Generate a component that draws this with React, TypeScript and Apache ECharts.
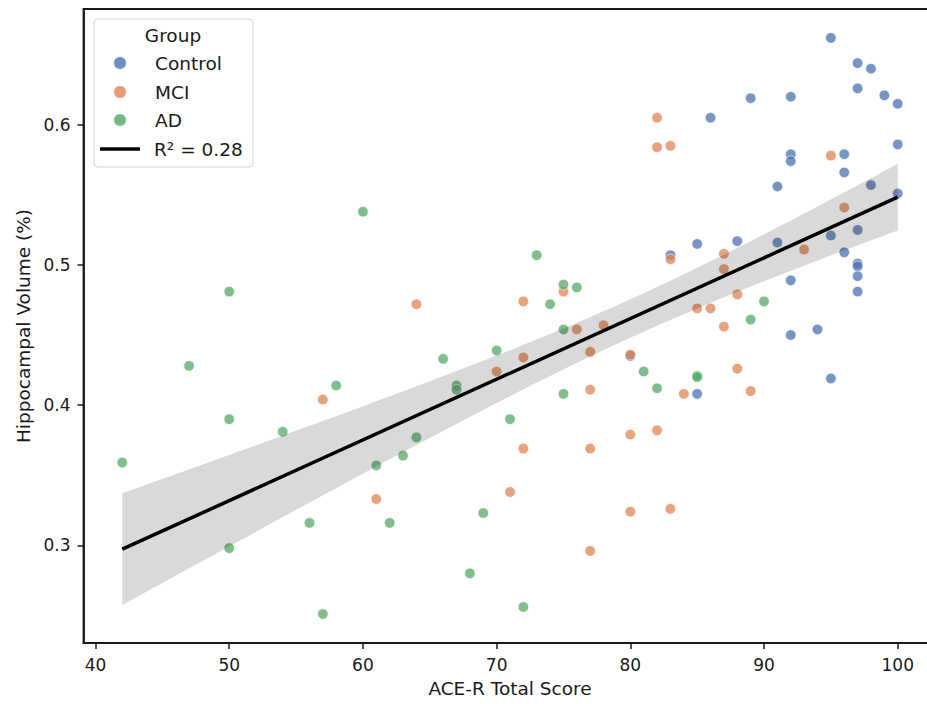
import React, { useEffect, useRef } from "react";
import * as echarts from "echarts";

// ACE-R total score (x) and hippocampal volume in % (y), per diagnostic group
const controlScores = [95, 97, 98, 97, 99, 100, 89, 92, 86, 100, 96, 92, 92, 96, 91, 98, 100, 97, 95, 91, 88, 85, 83, 96, 97, 97, 97, 97, 92, 92, 94, 80, 95, 85];
const controlVolumes = [0.662, 0.644, 0.640, 0.626, 0.621, 0.615, 0.619, 0.620, 0.605, 0.586, 0.579, 0.579, 0.574, 0.566, 0.556, 0.557, 0.551, 0.525, 0.521, 0.516, 0.517, 0.515, 0.507, 0.509, 0.501, 0.499, 0.492, 0.481, 0.489, 0.450, 0.454, 0.435, 0.419, 0.408];

const mciScores = [82, 82, 83, 95, 96, 93, 87, 83, 87, 88, 85, 86, 87, 78, 80, 88, 84, 89, 80, 82, 75, 64, 72, 76, 77, 72, 70, 77, 72, 77, 57, 61, 71, 80, 83, 77];
const mciVolumes = [0.605, 0.584, 0.585, 0.578, 0.541, 0.511, 0.508, 0.504, 0.497, 0.479, 0.469, 0.469, 0.456, 0.457, 0.436, 0.426, 0.408, 0.410, 0.379, 0.382, 0.481, 0.472, 0.474, 0.454, 0.438, 0.434, 0.424, 0.411, 0.369, 0.369, 0.404, 0.333, 0.338, 0.324, 0.326, 0.296];

const adScores = [60, 73, 75, 76, 50, 74, 75, 90, 89, 70, 66, 47, 81, 85, 85, 58, 67, 67, 82, 75, 50, 71, 54, 64, 63, 42, 61, 56, 62, 69, 50, 68, 57, 72];
const adVolumes = [0.538, 0.507, 0.486, 0.484, 0.481, 0.472, 0.454, 0.474, 0.461, 0.439, 0.433, 0.428, 0.424, 0.421, 0.420, 0.414, 0.414, 0.411, 0.412, 0.408, 0.390, 0.390, 0.381, 0.377, 0.364, 0.359, 0.357, 0.316, 0.316, 0.323, 0.298, 0.280, 0.251, 0.256];

const groupNames = ["Control", "MCI", "AD"];
const groupColors = ["#4c72b0", "#dd8452", "#55a868"];
const fitLabel = "R² = 0.28";

const xTicks = [40, 50, 60, 70, 80, 90, 100];
const yTicks = [0.3, 0.4, 0.5, 0.6];

const FONT = "DejaVu Sans";
const INK = "#1a1a1a";
const TICK_SIZE = 17;
const LABEL_SIZE = 18.5;

function pairs(xs: number[], ys: number[]) {
  return xs.map((x, i) => [x, ys[i]]);
}

// Ordinary least squares fit with a 95% confidence band of the mean
function fitLine() {
  const xs = [...controlScores, ...mciScores, ...adScores];
  const ys = [...controlVolumes, ...mciVolumes, ...adVolumes];
  const n = xs.length;
  const mx = xs.reduce((a, b) => a + b, 0) / n;
  const my = ys.reduce((a, b) => a + b, 0) / n;
  let sxx = 0;
  let sxy = 0;
  for (let i = 0; i < n; i++) {
    sxx += (xs[i] - mx) ** 2;
    sxy += (xs[i] - mx) * (ys[i] - my);
  }
  const slope = sxy / sxx;
  const intercept = my - slope * mx;
  let sse = 0;
  for (let i = 0; i < n; i++) sse += (ys[i] - (intercept + slope * xs[i])) ** 2;
  const s2 = sse / (n - 2);
  const t = 1.983;
  const x0 = Math.min(...xs);
  const x1 = Math.max(...xs);
  const steps = 60;
  const upper: number[][] = [];
  const lower: number[][] = [];
  for (let k = 0; k <= steps; k++) {
    const x = x0 + ((x1 - x0) * k) / steps;
    const yhat = intercept + slope * x;
    const half = t * Math.sqrt(s2 * (1 / n + (x - mx) ** 2 / sxx));
    upper.push([x, yhat + half]);
    lower.push([x, yhat - half]);
  }
  return {
    line: [
      [x0, intercept + slope * x0],
      [x1, intercept + slope * x1],
    ],
    upper,
    lower,
  };
}

export default function App() {
  const ref = useRef<HTMLDivElement>(null);

  useEffect(() => {
    if (!ref.current) return;
    const chart = echarts.init(ref.current, null, { renderer: "svg" });
    const fit = fitLine();
    const groups = [
      pairs(controlScores, controlVolumes),
      pairs(mciScores, mciVolumes),
      pairs(adScores, adVolumes),
    ];

    const scatterSeries = groups.map((data, i) => ({
      type: "scatter",
      name: groupNames[i],
      data,
      symbol: "circle",
      symbolSize: 10.5,
      z: 2,
      itemStyle: {
        color: groupColors[i],
        opacity: 0.75,
        borderColor: "#ffffff",
        borderWidth: 0.8,
      },
      emphasis: { disabled: true },
    }));

    const legendFont = `${LABEL_SIZE}px '${FONT}'`;
    const legendRows = [63, 92, 120];
    const legendChildren: any[] = [
      {
        type: "rect",
        shape: { x: 94, y: 19, width: 159, height: 148, r: 4 },
        style: { fill: "rgba(255,255,255,0.85)", stroke: "#d4d4d4", lineWidth: 1 },
      },
      {
        type: "text",
        style: {
          x: 173,
          y: 35,
          text: "Group",
          fill: INK,
          font: legendFont,
          align: "center",
          verticalAlign: "middle",
        },
      },
    ];
    groupNames.forEach((name, i) => {
      legendChildren.push({
        type: "circle",
        shape: { cx: 120, cy: legendRows[i], r: 6.3 },
        style: { fill: groupColors[i], opacity: 0.8, stroke: "#ffffff", lineWidth: 0.8 },
      });
      legendChildren.push({
        type: "text",
        style: {
          x: 155,
          y: legendRows[i],
          text: name,
          fill: INK,
          font: legendFont,
          align: "left",
          verticalAlign: "middle",
        },
      });
    });
    legendChildren.push({
      type: "line",
      shape: { x1: 100, y1: 149, x2: 140, y2: 149 },
      style: { stroke: "#000000", lineWidth: 3.5 },
    });
    legendChildren.push({
      type: "text",
      style: {
        x: 154,
        y: 149,
        text: fitLabel,
        fill: INK,
        font: legendFont,
        align: "left",
        verticalAlign: "middle",
      },
    });

    chart.setOption({
      animation: false,
      backgroundColor: "#ffffff",
      textStyle: { fontFamily: FONT },
      grid: {
        left: 83.5,
        top: 9,
        width: 853,
        height: 634,
        show: true,
        borderColor: INK,
        borderWidth: 1.8,
        backgroundColor: "transparent",
        outerBoundsMode: "none",
      },
      xAxis: {
        type: "value",
        min: 39.1,
        max: 102.9,
        name: "ACE-R Total Score",
        nameLocation: "middle",
        nameGap: 36,
        nameTextStyle: { color: INK, fontSize: LABEL_SIZE, fontFamily: FONT },
        axisLine: { show: true, onZero: false, lineStyle: { color: INK, width: 1.8 } },
        axisTick: { show: true, length: 6, customValues: xTicks, lineStyle: { color: INK, width: 1.5 } },
        axisLabel: {
          show: true,
          customValues: xTicks,
          margin: 13,
          color: INK,
          fontSize: TICK_SIZE,
          fontFamily: FONT,
          formatter: (v: number) => String(v),
        },
        splitLine: { show: false },
      },
      yAxis: {
        type: "value",
        min: 0.2303,
        max: 0.6826,
        name: "Hippocampal Volume (%)",
        nameLocation: "middle",
        nameGap: 49,
        nameTextStyle: { color: INK, fontSize: LABEL_SIZE, fontFamily: FONT },
        axisLine: { show: true, onZero: false, lineStyle: { color: INK, width: 1.8 } },
        axisTick: { show: true, length: 6, customValues: yTicks, lineStyle: { color: INK, width: 1.5 } },
        axisLabel: {
          show: true,
          customValues: yTicks,
          margin: 13,
          color: INK,
          fontSize: TICK_SIZE,
          fontFamily: FONT,
          formatter: (v: number) => v.toFixed(1),
        },
        splitLine: { show: false },
      },
      series: [
        ...scatterSeries,
        {
          type: "custom",
          name: "ci",
          coordinateSystem: "cartesian2d",
          data: [fit.line[0]],
          z: 3,
          silent: true,
          renderItem: (_params: any, api: any) => {
            const pts = fit.upper
              .map((p) => api.coord(p))
              .concat(fit.lower.slice().reverse().map((p) => api.coord(p)));
            return {
              type: "polygon",
              shape: { points: pts },
              style: { fill: "rgba(0,0,0,0.15)" },
            };
          },
        },
        {
          type: "line",
          name: fitLabel,
          data: fit.line,
          z: 4,
          symbol: "none",
          silent: true,
          lineStyle: { color: "#000000", width: 3.5 },
        },
      ],
      graphic: [{ type: "group", z: 100, children: legendChildren }],
    });

    return () => {
      chart.dispose();
    };
  }, []);

  return (
    <div
      style={{
        position: "absolute",
        left: 0,
        top: 0,
        width: 927,
        height: 704,
        overflow: "hidden",
        background: "#ffffff",
      }}
    >
      <div ref={ref} style={{ width: 945, height: 704 }} />
    </div>
  );
}
